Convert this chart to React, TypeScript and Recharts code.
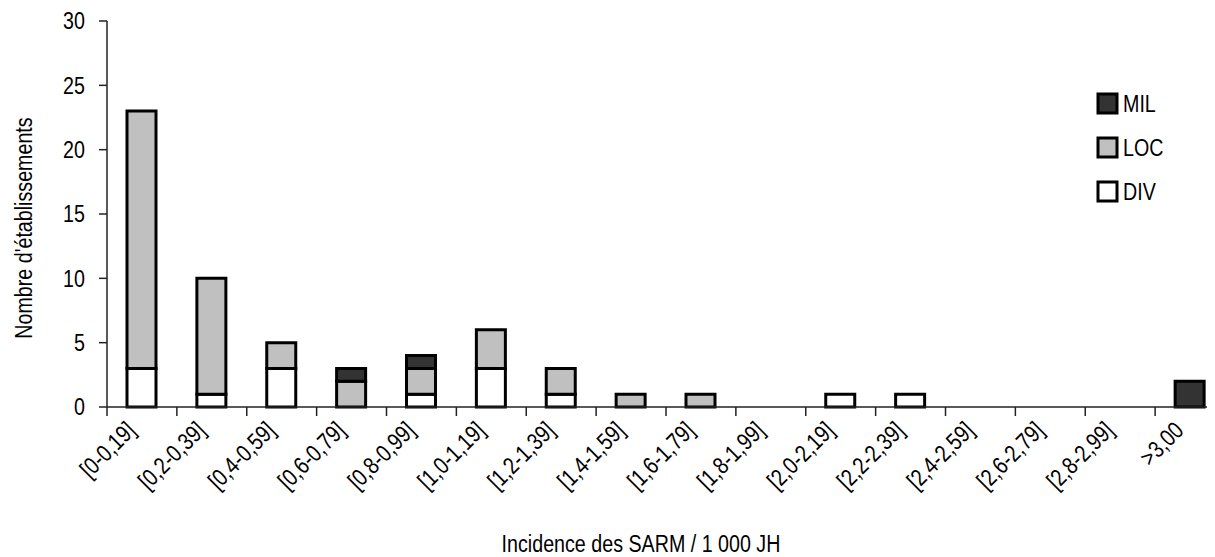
import React from "react";
import { BarChart, Bar, XAxis, YAxis, Legend } from "recharts";

const categories = [
  "[0-0,19]", "[0,2-0,39]", "[0,4-0,59]", "[0,6-0,79]", "[0,8-0,99]", "[1,0-1,19]",
  "[1,2-1,39]", "[1,4-1,59]", "[1,6-1,79]", "[1,8-1,99]", "[2,0-2,19]", "[2,2-2,39]",
  "[2,4-2,59]", "[2,6-2,79]", "[2,8-2,99]", ">3,00",
];
const divValues = [3, 1, 3, 0, 1, 3, 1, 0, 0, 0, 1, 1, 0, 0, 0, 0];
const locValues = [20, 9, 2, 2, 2, 3, 2, 1, 1, 0, 0, 0, 0, 0, 0, 0];
const milValues = [0, 0, 0, 1, 1, 0, 0, 0, 0, 0, 0, 0, 0, 0, 0, 2];
const yTicks = [0, 5, 10, 15, 20, 25, 30];

const data = categories.map((cat, i) => ({
  cat,
  DIV: divValues[i],
  LOC: locValues[i],
  MIL: milValues[i],
}));

// Liberation Sans squeezed horizontally to look like Arial Narrow
const FONT = "'Liberation Sans', Arial, sans-serif";
const SQUEEZE = 0.82;
const W = 1222;
const H = 549;
const MARGIN = { top: 13, right: 5, left: 0, bottom: 0 };
const Y_W = 99;
const BAND = (W - MARGIN.right - Y_W) / categories.length;

const series = [
  { key: "MIL", fill: "#333333" },
  { key: "LOC", fill: "#c0c0c0" },
  { key: "DIV", fill: "#ffffff" },
];

function NText({ x, y, rotate = 0, anchor = "start", baseline, size = 24, children }: any) {
  return (
    <g transform={`translate(${x},${y}) rotate(${rotate}) scale(${SQUEEZE},1)`}>
      <text x={0} y={0} textAnchor={anchor} dominantBaseline={baseline} fontSize={size} fontFamily={FONT} fill="#000">
        {children}
      </text>
    </g>
  );
}

function XTick(props: any) {
  const { x, y, payload, index } = props;
  const left = x - BAND / 2;
  return (
    <g>
      <line x1={left} x2={left} y1={y} y2={y + 9} stroke="#222" strokeWidth={1.5} />
      {index === categories.length - 1 && (
        <line x1={x + BAND / 2} x2={x + BAND / 2} y1={y} y2={y + 9} stroke="#222" strokeWidth={1.5} />
      )}
      <NText x={x - 5} y={y + 25} rotate={-45} anchor="end">
        {payload.value}
      </NText>
    </g>
  );
}

function YTick(props: any) {
  const { x, y, payload } = props;
  return (
    <NText x={x} y={y} anchor="end" baseline="central">
      {payload.value}
    </NText>
  );
}

function LegendBox() {
  return (
    <svg width={110} height={150} style={{ overflow: "visible" }}>
      {series.map((s, i) => (
        <g key={s.key}>
          <rect x={2} y={2 + i * 44} width={19} height={19} fill={s.fill} stroke="#000" strokeWidth={3} />
          <NText x={27} y={20 + i * 44}>
            {s.key}
          </NText>
        </g>
      ))}
    </svg>
  );
}

export default function App() {
  return (
    <div style={{ width: 1207, height: H, overflow: "hidden" }}>
      <BarChart width={W} height={H} data={data} margin={MARGIN}>
        <XAxis
          dataKey="cat"
          interval={0}
          height={150}
          tickSize={0}
          tickMargin={0}
          tick={<XTick />}
          axisLine={{ stroke: "#222", strokeWidth: 1.5 }}
          label={{
            content: (p: any) => (
              <NText x={p.viewBox.x + p.viewBox.width / 2 - 25} y={p.viewBox.y + p.viewBox.height - 5} anchor="middle">
                Incidence des SARM / 1 000 JH
              </NText>
            ),
          }}
        />
        <YAxis
          width={Y_W}
          domain={[0, 30]}
          ticks={yTicks}
          interval={0}
          tickSize={8}
          tickMargin={14}
          tick={<YTick />}
          tickLine={{ stroke: "#222", strokeWidth: 1.5 }}
          axisLine={{ stroke: "#222", strokeWidth: 1.5 }}
          label={{
            content: (p: any) => (
              <NText x={p.viewBox.x + 16} y={p.viewBox.y + p.viewBox.height / 2 + 14} rotate={-90} anchor="middle" baseline="central">
                Nombre d'établissements
              </NText>
            ),
          }}
        />
        <Legend
          layout="horizontal"
          verticalAlign="middle"
          content={<LegendBox />}
          wrapperStyle={{ position: "absolute", left: 1088, top: 84, width: 110, height: 150 }}
        />
        <Bar dataKey="DIV" stackId="a" fill="#ffffff" stroke="#000" strokeWidth={3} barSize={29} isAnimationActive={false} />
        <Bar dataKey="LOC" stackId="a" fill="#c0c0c0" stroke="#000" strokeWidth={3} barSize={29} isAnimationActive={false} />
        <Bar dataKey="MIL" stackId="a" fill="#333333" stroke="#000" strokeWidth={3} barSize={29} isAnimationActive={false} />
      </BarChart>
    </div>
  );
}
